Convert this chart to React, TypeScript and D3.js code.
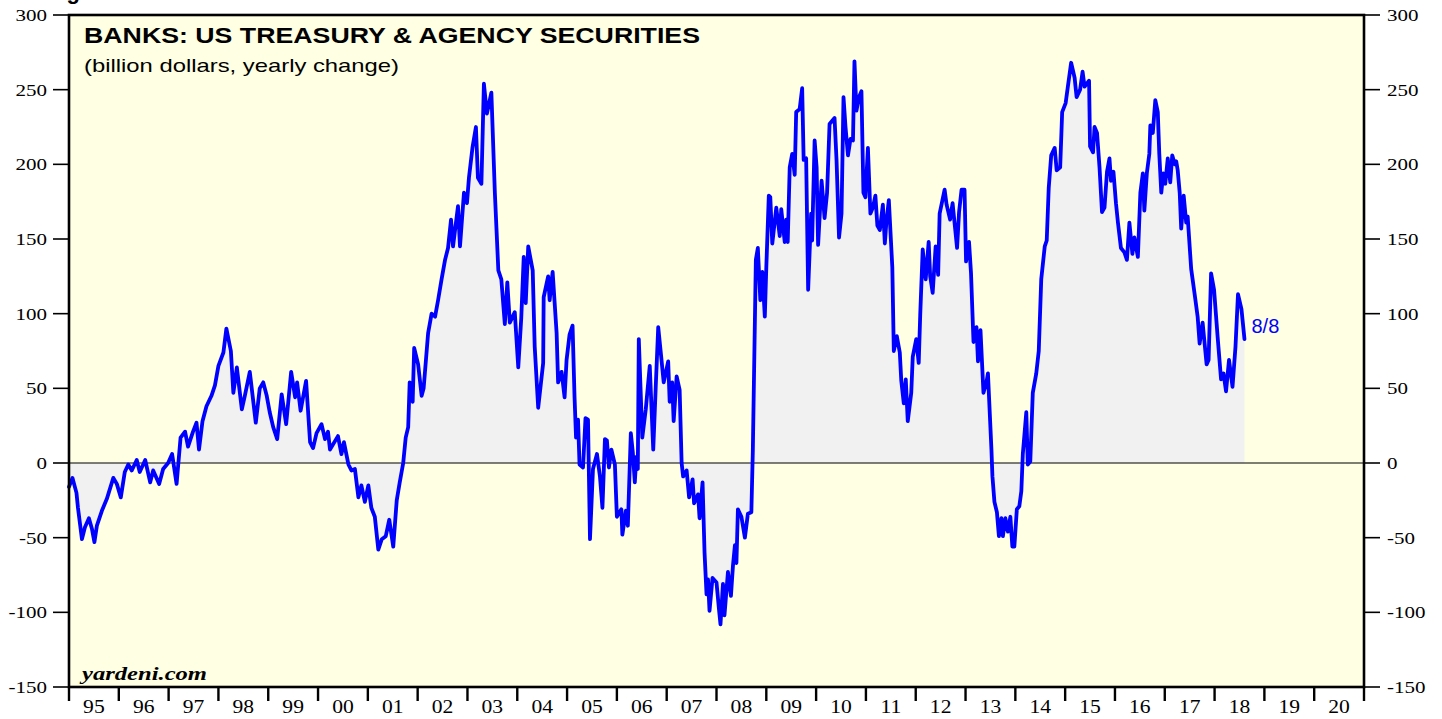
import React from 'react';
import * as d3 from 'd3';

// weekly readings (decimal year) and yearly change, billion dollars
const weeks = [
  1995.00, 1995.07, 1995.15, 1995.18, 1995.26, 1995.32, 1995.40, 1995.46, 1995.51, 1995.56,
  1995.66, 1995.76, 1995.89, 1995.96, 1996.04, 1996.12, 1996.19, 1996.26, 1996.36, 1996.42,
  1996.53, 1996.63, 1996.69, 1996.81, 1996.89, 1996.99, 1997.07, 1997.16, 1997.24, 1997.33,
  1997.39, 1997.49, 1997.56, 1997.61, 1997.68, 1997.76, 1997.86, 1997.93, 1998.00, 1998.10,
  1998.16, 1998.25, 1998.30, 1998.37, 1998.47, 1998.53, 1998.63, 1998.75, 1998.83, 1998.90,
  1998.97, 1999.03, 1999.10, 1999.18, 1999.27, 1999.36, 1999.46, 1999.54, 1999.58, 1999.65,
  1999.76, 1999.84, 1999.90, 1999.97, 2000.07, 2000.14, 2000.20, 2000.24, 2000.40, 2000.47,
  2000.52, 2000.61, 2000.67, 2000.74, 2000.81, 2000.87, 2000.94, 2001.01, 2001.07, 2001.14,
  2001.21, 2001.28, 2001.36, 2001.43, 2001.51, 2001.58, 2001.64, 2001.71, 2001.76, 2001.81,
  2001.84, 2001.90, 2001.93, 2002.01, 2002.08, 2002.12, 2002.21, 2002.28, 2002.35, 2002.41,
  2002.48, 2002.55, 2002.61, 2002.67, 2002.71, 2002.81, 2002.85, 2002.93, 2002.99, 2003.03,
  2003.10, 2003.17, 2003.21, 2003.28, 2003.33, 2003.39, 2003.48, 2003.55, 2003.62, 2003.68,
  2003.75, 2003.80, 2003.85, 2003.95, 2004.02, 2004.08, 2004.13, 2004.17, 2004.22, 2004.31,
  2004.35, 2004.42, 2004.52, 2004.53, 2004.62, 2004.65, 2004.71, 2004.79, 2004.82, 2004.89,
  2004.95, 2004.99, 2005.05, 2005.11, 2005.15, 2005.18, 2005.22, 2005.25, 2005.32, 2005.37,
  2005.42, 2005.46, 2005.52, 2005.60, 2005.66, 2005.71, 2005.76, 2005.80, 2005.84, 2005.89,
  2005.96, 2006.00, 2006.09, 2006.11, 2006.18, 2006.22, 2006.28, 2006.32, 2006.36, 2006.39,
  2006.42, 2006.44, 2006.51, 2006.58, 2006.66, 2006.73, 2006.78, 2006.83, 2006.89, 2006.94,
  2007.03, 2007.06, 2007.11, 2007.14, 2007.20, 2007.26, 2007.30, 2007.33, 2007.40, 2007.45,
  2007.52, 2007.55, 2007.63, 2007.66, 2007.72, 2007.76, 2007.80, 2007.83, 2007.86, 2007.92,
  2008.00, 2008.05, 2008.08, 2008.13, 2008.16, 2008.23, 2008.29, 2008.33, 2008.37, 2008.40,
  2008.43, 2008.50, 2008.57, 2008.63, 2008.70, 2008.73, 2008.79, 2008.83, 2008.88, 2008.92,
  2008.97, 2009.00, 2009.05, 2009.08, 2009.12, 2009.20, 2009.27, 2009.30, 2009.37, 2009.40,
  2009.43, 2009.47, 2009.52, 2009.57, 2009.60, 2009.67, 2009.72, 2009.75, 2009.80, 2009.84,
  2009.90, 2009.92, 2009.97, 2010.01, 2010.04, 2010.11, 2010.17, 2010.22, 2010.27, 2010.37,
  2010.41, 2010.46, 2010.51, 2010.55, 2010.59, 2010.64, 2010.69, 2010.74, 2010.77, 2010.81,
  2010.86, 2010.91, 2010.95, 2010.99, 2011.04, 2011.09, 2011.14, 2011.19, 2011.23, 2011.28,
  2011.34, 2011.38, 2011.41, 2011.46, 2011.53, 2011.56, 2011.62, 2011.68, 2011.71, 2011.76,
  2011.80, 2011.84, 2011.91, 2011.94, 2012.01, 2012.06, 2012.09, 2012.14, 2012.20, 2012.26,
  2012.29, 2012.34, 2012.40, 2012.45, 2012.48, 2012.53, 2012.58, 2012.62, 2012.69, 2012.74,
  2012.83, 2012.87, 2012.92, 2012.98, 2013.01, 2013.07, 2013.11, 2013.16, 2013.22, 2013.25,
  2013.30, 2013.36, 2013.42, 2013.45, 2013.52, 2013.54, 2013.58, 2013.63, 2013.67, 2013.72,
  2013.75, 2013.80, 2013.85, 2013.90, 2013.94, 2013.98, 2014.03, 2014.08, 2014.12, 2014.15,
  2014.22, 2014.25, 2014.30, 2014.35, 2014.42, 2014.47, 2014.52, 2014.59, 2014.63, 2014.67,
  2014.72, 2014.79, 2014.83, 2014.90, 2014.94, 2015.01, 2015.05, 2015.12, 2015.19, 2015.23,
  2015.30, 2015.35, 2015.39, 2015.48, 2015.50, 2015.56, 2015.59, 2015.64, 2015.69, 2015.74,
  2015.79, 2015.84, 2015.89, 2015.92, 2015.97, 2016.02, 2016.06, 2016.12, 2016.19, 2016.24,
  2016.29, 2016.35, 2016.39, 2016.46, 2016.51, 2016.56, 2016.59, 2016.64, 2016.69, 2016.71,
  2016.76, 2016.81, 2016.86, 2016.89, 2016.93, 2016.97, 2017.01, 2017.06, 2017.11, 2017.15,
  2017.20, 2017.23, 2017.26, 2017.30, 2017.33, 2017.38, 2017.43, 2017.46, 2017.53, 2017.60,
  2017.66, 2017.70, 2017.76, 2017.84, 2017.88, 2017.93, 2017.99, 2018.06, 2018.13, 2018.18,
  2018.23, 2018.29, 2018.36, 2018.42, 2018.47, 2018.54, 2018.60,
];

const change = [
  -16, -10, -20, -30, -51, -43, -37, -44, -53, -42,
  -32, -24, -10, -14, -23, -6, -1, -5, 2, -6,
  2, -13, -5, -14, -4, 0, 6, -14, 17, 21,
  11, 21, 27, 9, 28, 38, 45, 52, 65, 74,
  90, 75, 47, 64, 36, 45, 61, 27, 50, 54,
  45, 34, 24, 16, 46, 26, 61, 44, 54, 35,
  55, 14, 10, 20, 26, 16, 21, 9, 18, 6,
  14, -1, -5, -4, -23, -15, -26, -15, -30, -36,
  -58, -51, -49, -38, -56, -25, -13, 0, 17, 24,
  54, 41, 77, 66, 45, 50, 87, 100, 98, 109,
  123, 136, 144, 163, 145, 172, 145, 181, 174, 191,
  211, 225, 191, 187, 254, 234, 248, 181, 129, 123,
  93, 121, 94, 101, 64, 97, 138, 107, 145, 129,
  78, 37, 67, 111, 125, 109, 128, 87, 54, 61,
  44, 69, 86, 92, 44, 17, 29, -1, -3, 30,
  29, -51, -4, 6, -9, -30, 16, 15, -3, 9,
  -1, -36, -31, -48, -32, -42, 20, 7, -13, 4,
  -4, 83, 17, 36, 65, 9, 51, 91, 71, 54,
  68, 41, 54, 28, 58, 49, 0, -9, -5, -23,
  -11, -27, -21, -37, -13, -60, -88, -78, -99, -77,
  -80, -98, -108, -81, -102, -73, -89, -69, -55, -67,
  -31, -36, -50, -34, -33, 9, 136, 144, 109, 128,
  98, 131, 179, 178, 147, 171, 152, 170, 148, 163,
  148, 198, 207, 193, 235, 237, 251, 203, 204, 116,
  167, 149, 216, 198, 146, 189, 164, 181, 227, 231,
  203, 151, 167, 245, 225, 206, 217, 216, 269, 236,
  245, 249, 181, 178, 211, 167, 171, 179, 159, 156,
  173, 147, 161, 176, 131, 75, 85, 74, 55, 40,
  56, 28, 47, 71, 83, 67, 99, 143, 123, 148,
  125, 114, 145, 126, 167, 175, 183, 173, 163, 174,
  144, 168, 183, 183, 135, 148, 127, 81, 91, 68,
  89, 47, 54, 60, 9, -9, -26, -33, -49, -37,
  -49, -37, -46, -36, -56, -56, -31, -29, -19, 6,
  34, -1, 1, 47, 60, 75, 123, 145, 149, 184,
  206, 211, 196, 198, 235, 241, 251, 268, 258, 245,
  250, 262, 252, 256, 212, 208, 225, 221, 198, 168,
  171, 195, 204, 189, 195, 174, 161, 144, 141, 136,
  161, 140, 151, 138, 181, 194, 169, 194, 207, 226,
  221, 243, 235, 207, 181, 194, 187, 204, 188, 206,
  200, 202, 196, 181, 157, 179, 161, 165, 130, 113,
  98, 80, 94, 66, 69, 127, 116, 85, 56, 60,
  48, 69, 51, 78, 113, 103, 83,
];

const yTicks = [-150, -100, -50, 0, 50, 100, 150, 200, 250, 300];
const yearLabels = ['95', '96', '97', '98', '99', '00', '01', '02', '03', '04', '05', '06', '07',
  '08', '09', '10', '11', '12', '13', '14', '15', '16', '17', '18', '19', '20'];
const lastLabel = '8/8';

const serif = '"Liberation Serif", "Times New Roman", Times, serif';
const sans = '"Liberation Sans", Arial, Helvetica, sans-serif';

export default function App() {
  const width = 1442;
  const height = 719;
  const left = 69, right = 1364, top = 15, bottom = 687;

  const x = d3.scaleLinear().domain([1995, 1995 + yearLabels.length]).range([left, right]);
  const y = d3.scaleLinear().domain([-150, 300]).range([bottom, top]);

  const pts: [number, number][] = weeks.map((w, i) => [w, change[i]]);
  const line = d3.line<[number, number]>().x(d => x(d[0])).y(d => y(d[1]));
  const area = d3.area<[number, number]>().x(d => x(d[0])).y0(y(0)).y1(d => y(d[1]));

  const boundaries = d3.range(1995, 1995 + yearLabels.length + 1);
  const last = pts[pts.length - 1];

  return (
    <svg width={width} height={height} style={{ position: 'absolute', left: 0, top: 0, background: '#fff' }}>
      {/* clipped heading from the page above */}
      <text x={47} y={-1} fontFamily={sans} fontWeight="bold" fontSize={22}>Figure</text>

      <rect x={left} y={top} width={right - left} height={bottom - top} fill="#ffffe3" />
      <path d={area(pts) || ''} fill="#f1f1f1" />
      <line x1={left} x2={right} y1={y(0)} y2={y(0)} stroke="#000" strokeWidth={1.2} />
      <path d={line(pts) || ''} fill="none" stroke="#0000ff" strokeWidth={3.8} strokeLinejoin="round" strokeLinecap="round" />

      {/* y axis, both sides */}
      {yTicks.map(t => (
        <g key={t}>
          <line x1={53} x2={left} y1={y(t)} y2={y(t)} stroke="#000" strokeWidth={1.6} />
          <line x1={right} x2={1380} y1={y(t)} y2={y(t)} stroke="#000" strokeWidth={1.6} />
          <text transform={`translate(47,${y(t) + 6}) scale(1.2,1)`} textAnchor="end"
            fontFamily={serif} fontSize={17.5} fill="#000">{t}</text>
          <text transform={`translate(1387,${y(t) + 6}) scale(1.2,1)`} textAnchor="start"
            fontFamily={serif} fontSize={17.5} fill="#000">{t}</text>
        </g>
      ))}

      {/* x axis: year boundaries, labels centred in each year */}
      {boundaries.map(b => (
        <line key={b} x1={x(b)} x2={x(b)} y1={bottom} y2={701} stroke="#000" strokeWidth={2.4} />
      ))}
      {yearLabels.map((lab, i) => (
        <text key={lab} transform={`translate(${x(1995 + i + 0.5)},713) scale(1.2,1)`} textAnchor="middle"
          fontFamily={serif} fontSize={18} fill="#000">{lab}</text>
      ))}

      <rect x={left} y={top} width={right - left} height={bottom - top} fill="none" stroke="#000" strokeWidth={2.6} />

      <text x={84} y={43} fontFamily={sans} fontWeight="bold" fontSize={22} textLength={616}
        lengthAdjust="spacingAndGlyphs" fill="#000">BANKS: US TREASURY &amp; AGENCY SECURITIES</text>
      <text x={84} y={72} fontFamily={sans} fontSize={19} textLength={315}
        lengthAdjust="spacingAndGlyphs" fill="#000">(billion dollars, yearly change)</text>
      <text x={82} y={680} fontFamily={serif} fontStyle="italic" fontWeight="bold" fontSize={19}
        textLength={125} lengthAdjust="spacingAndGlyphs" fill="#000">yardeni.com</text>

      <text x={x(last[0]) + 7} y={y(100) + 19} fontFamily={sans} fontSize={20} fill="#0000ff">{lastLabel}</text>
    </svg>
  );
}
